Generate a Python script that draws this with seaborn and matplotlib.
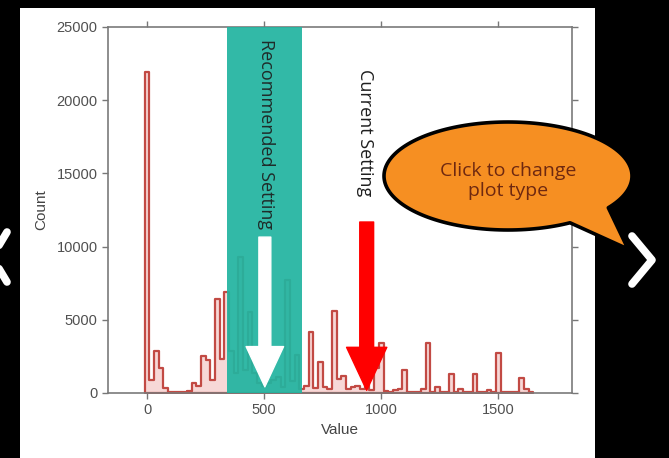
import numpy as np
import matplotlib.pyplot as plt
import seaborn as sns
from matplotlib.patches import Rectangle, Polygon, FancyArrowPatch
from matplotlib.lines import Line2D

# histogram bins (centre of each 20-wide bin) and counts
bin_centers = list(range(0, 1660, 20))
counts = [
    21900, 900, 2900, 1700, 350, 100, 60, 80, 60, 120,        # 0-180
    650, 450, 2500, 2250, 900, 6400, 2300, 6900, 2900, 1400,   # 200-380
    9300, 1600, 5500, 1400, 700, 500, 700, 900, 1100, 400,     # 400-580
    7700, 800, 2600, 300, 500, 4200, 350, 2100, 400, 300,      # 600-780
    5600, 950, 1150, 250, 400, 500, 300, 600, 200, 1700,       # 800-980
    3400, 150, 100, 200, 300, 1600, 100, 80, 100, 300,         # 1000-1180
    3400, 100, 400, 100, 80, 1300, 100, 300, 100, 80,          # 1200-1380
    1300, 100, 100, 200, 80, 2700, 100, 80, 60, 80,            # 1400-1580
    1000, 250, 60,                                             # 1600-1640
]

recommended_range = (340, 662)
recommended_value = 503
current_value = 938
y_ticks = [0, 5000, 10000, 15000, 20000, 25000]
x_ticks = [0, 500, 1000, 1500]

W, H = 669, 458


def fig_xy(x, y):
    # pixel position (y down) -> figure fraction
    return x / W, 1 - y / H


sns.set_style('ticks')
plt.rcParams['font.family'] = ['Liberation Sans', 'DejaVu Sans']

fig = plt.figure(figsize=(W / 100, H / 100), dpi=100, facecolor='black')

# white slide panel behind the plot
fig.add_artist(Rectangle(fig_xy(20, 458), 575 / W, 450 / H, transform=fig.transFigure,
                         facecolor='white', edgecolor='none', zorder=-1))

ax = fig.add_axes([108 / W, 1 - 393 / H, 464 / W, 366 / H])
ax.set_facecolor('white')

sns.histplot(x=bin_centers, weights=counts, binwidth=20, binrange=(-10, 1650),
             element='step', fill=True, color='#e06660', alpha=0.25,
             edgecolor='#c24a44', linewidth=1.6, ax=ax)

ax.axvspan(*recommended_range, color='#22b4a0', alpha=0.93, lw=0, zorder=3)

# arrows
white_arrow = FancyArrowPatch((recommended_value, 10650), (recommended_value, 420),
                              arrowstyle='simple,head_width=2.7,head_length=2.9,tail_width=0.86',
                              mutation_scale=10, color='white', shrinkA=0, shrinkB=0, zorder=4)
red_arrow = FancyArrowPatch((current_value, 11680), (current_value, 180),
                            arrowstyle='simple,head_width=2.9,head_length=3.1,tail_width=1.0',
                            mutation_scale=10, color='#ff0000', shrinkA=0, shrinkB=0, zorder=4)
ax.add_patch(white_arrow)
ax.add_patch(red_arrow)

ax.text(recommended_value + 3, 24200, 'Recommended Setting', rotation=-90, ha='center', va='top',
        fontsize=13, color='#1f2b29', family=['Open Sans', 'DejaVu Sans'], zorder=5)
ax.text(current_value - 6, 22100, 'Current Setting', rotation=-90, ha='center', va='top',
        fontsize=13, color='#1f1f1f', family=['Open Sans', 'DejaVu Sans'], zorder=5)

ax.set_xlim(-167, 1815)
ax.set_ylim(0, 25000)
ax.set_xticks(x_ticks)
ax.set_yticks(y_ticks)
ax.set_xlabel('Value', fontsize=11, color='#444444', labelpad=4)
ax.set_ylabel('Count', fontsize=11, color='#444444', labelpad=6)
ax.tick_params(direction='out', length=4, width=1, colors='#777777', labelcolor='#505050',
               labelsize=10.5, top=True, right=True)
for s in ax.spines.values():
    s.set_visible(True)
    s.set_color('#7a7a7a')
    s.set_linewidth(1.2)

# speech bubble
cx, cy, a, b = 508, 176, 124, 54
pts = []
for deg in range(0, 360, 2):
    if 36 < deg < 60:
        if deg == 38:
            pts.append(fig_xy(628, 249))
        continue
    t = np.radians(deg)
    pts.append(fig_xy(cx + a * np.cos(t), cy + b * np.sin(t)))
fig.add_artist(Polygon(pts, closed=True, transform=fig.transFigure, facecolor='#f68f22',
                       edgecolor='black', linewidth=2.6, joinstyle='round', zorder=5))
fig.text(*fig_xy(508, 181), 'Click to change\nplot type', ha='center', va='center',
         fontsize=14, color='#6e2810', linespacing=1.1,
         family=['Open Sans', 'DejaVu Sans'], zorder=6)

# slide navigation chevrons
fig.add_artist(Line2D(*zip(fig_xy(632, 236), fig_xy(652, 260), fig_xy(632, 284)),
                      transform=fig.transFigure, color='white', lw=5.5, zorder=6))
fig.add_artist(Line2D(*zip(fig_xy(7, 232), fig_xy(-8, 257), fig_xy(7, 282)),
                      transform=fig.transFigure, color='white', lw=5.5, zorder=6))

fig.savefig('out.png', dpi=100, facecolor='black')
